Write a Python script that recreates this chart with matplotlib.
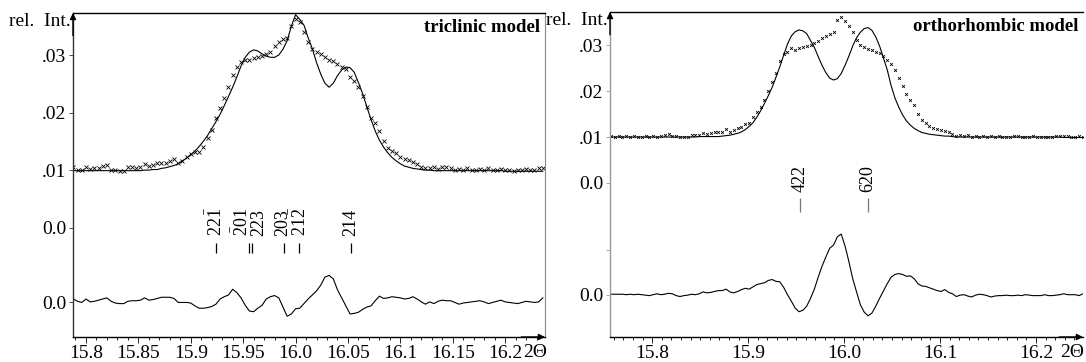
import numpy as np
import matplotlib
matplotlib.use("Agg")
import matplotlib.pyplot as plt

plt.rcParams['font.family'] = ['Liberation Serif', 'DejaVu Serif']
plt.rcParams['mathtext.fontset'] = 'custom'
plt.rcParams['mathtext.rm'] = 'Liberation Serif'
plt.rcParams['mathtext.it'] = 'Liberation Serif'

# ---- triclinic model (left) ----
tri_start, tri_step = 15.788, 0.004
tri_obs = [0.0105, 0.0101, 0.0100, 0.0105, 0.0102, 0.0103, 0.0103, 0.0107, 0.0108, 0.0101,
           0.0100, 0.0099, 0.0098, 0.0105, 0.0105, 0.0103, 0.0106, 0.0110, 0.0107, 0.0108,
           0.0112, 0.0113, 0.0113, 0.0115, 0.0119, 0.0113, 0.0116, 0.0123, 0.0128, 0.0131,
           0.0131, 0.0140, 0.0156, 0.0170, 0.0190, 0.0208, 0.0225, 0.0245, 0.0266, 0.0280,
           0.0288, 0.0292, 0.0291, 0.0294, 0.0297, 0.0299, 0.0302, 0.0306, 0.0315, 0.0323,
           0.0328, 0.0330, 0.0350, 0.0362, 0.0357, 0.0340, 0.0322, 0.0310, 0.0306, 0.0301,
           0.0297, 0.0292, 0.0289, 0.0284, 0.0280, 0.0275, 0.0262, 0.0255, 0.0245, 0.0228,
           0.0210, 0.0190, 0.0182, 0.0168, 0.0150, 0.0139, 0.0133, 0.0129, 0.0123, 0.0120,
           0.0118, 0.0114, 0.0111, 0.0106, 0.0103, 0.0104, 0.0105, 0.0102, 0.0105, 0.0105,
           0.0103, 0.0101, 0.0102, 0.0101, 0.0103, 0.0101, 0.0100, 0.0102, 0.0101, 0.0104,
           0.0101, 0.0101, 0.0102, 0.0100, 0.0101, 0.0099, 0.0101, 0.0101, 0.0102, 0.0101,
           0.0100, 0.0104, 0.0103]
tri_calc = [0.0099, 0.0099, 0.0099, 0.0099, 0.0099, 0.0099, 0.0099, 0.0099, 0.0099, 0.0099,
            0.0099, 0.0099, 0.0099, 0.0099, 0.0099, 0.0099, 0.0099, 0.0100, 0.0100, 0.0101,
            0.0101, 0.0103, 0.0104, 0.0106, 0.0108, 0.0111, 0.0116, 0.0121, 0.0127, 0.0133,
            0.0141, 0.0150, 0.0160, 0.0172, 0.0184, 0.0197, 0.0212, 0.0228, 0.0244, 0.0262,
            0.0281, 0.0296, 0.0305, 0.0309, 0.0307, 0.0302, 0.0298, 0.0296, 0.0296, 0.0300,
            0.0310, 0.0325, 0.0350, 0.0370, 0.0362, 0.0352, 0.0330, 0.0311, 0.0287, 0.0267,
            0.0251, 0.0244, 0.0251, 0.0264, 0.0274, 0.0279, 0.0278, 0.0270, 0.0252, 0.0233,
            0.0210, 0.0188, 0.0168, 0.0152, 0.0140, 0.0130, 0.0122, 0.0116, 0.0111, 0.0107,
            0.0105, 0.0103, 0.0102, 0.0101, 0.0100, 0.0100, 0.0099, 0.0099, 0.0099, 0.0099,
            0.0099, 0.0099, 0.0099, 0.0099, 0.0099, 0.0099, 0.0099, 0.0099, 0.0099, 0.0099,
            0.0099, 0.0099, 0.0099, 0.0098, 0.0098, 0.0098, 0.0098, 0.0098, 0.0098, 0.0098,
            0.0098, 0.0098, 0.0098]
tri_diff = [0.0006, 0.0002, 0.0000, 0.0006, 0.0001, 0.0002, 0.0004, 0.0006, 0.0008, 0.0002,
            -0.0001, -0.0002, -0.0002, 0.0002, 0.0003, 0.0003, 0.0004, 0.0008, 0.0004, 0.0005,
            0.0007, 0.0009, 0.0009, 0.0009, 0.0007, 0.0000, 0.0000, 0.0000, -0.0001, -0.0006,
            -0.0010, -0.0010, -0.0009, -0.0007, -0.0003, 0.0006, 0.0010, 0.0013, 0.0023, 0.0017,
            0.0008, -0.0005, -0.0015, -0.0016, -0.0010, -0.0005, 0.0006, 0.0010, 0.0012, 0.0008,
            -0.0008, -0.0024, -0.0020, -0.0011, -0.0010, -0.0002, 0.0006, 0.0013, 0.0020, 0.0030,
            0.0044, 0.0047, 0.0041, 0.0022, 0.0008, -0.0006, -0.0020, -0.0019, -0.0017, -0.0012,
            -0.0008, -0.0006, 0.0003, 0.0011, 0.0007, 0.0008, 0.0010, 0.0009, 0.0008, 0.0006,
            0.0007, 0.0010, 0.0006, 0.0001, -0.0003, 0.0001, -0.0002, 0.0002, 0.0004, 0.0003,
            0.0003, 0.0000, -0.0003, -0.0001, 0.0000, 0.0001, 0.0002, 0.0003, 0.0001, -0.0002,
            0.0000, 0.0002, 0.0004, 0.0001, 0.0000, -0.0001, -0.0002, 0.0000, 0.0002, 0.0001,
            0.0000, 0.0001, 0.0008]
tri_refl_pos = [15.924, 15.956, 15.958, 15.989, 16.003, 16.053]
tri_refl_lab = [r'$\mathrm{22\bar{1}}$', r'$\mathrm{\bar{2}01}$', '223', '203',
                r'$\mathrm{21\bar{2}}$', '214']
tri_refl_txt = [15.924, 15.949, 15.965, 15.988, 16.004, 16.053]
tri_xticks = [15.8, 15.85, 15.9, 15.95, 16.0, 16.05, 16.1, 16.15, 16.2]
tri_xlabels = ['15.8', '15.85', '15.9', '15.95', '16.0', '16.05', '16.1', '16.15', '16.2']

# ---- orthorhombic model (right) ----
ort_start, ort_step = 15.757, 0.004
ort_obs = [0.0103, 0.0101, 0.0102, 0.0101, 0.0102, 0.0101, 0.0103, 0.0100, 0.0101, 0.0102,
           0.0101, 0.0103, 0.0101, 0.0102, 0.0104, 0.0106, 0.0102, 0.0103, 0.0099, 0.0099,
           0.0100, 0.0104, 0.0104, 0.0105, 0.0109, 0.0106, 0.0108, 0.0110, 0.0112, 0.0111,
           0.0117, 0.0112, 0.0115, 0.0119, 0.0122, 0.0128, 0.0131, 0.0143, 0.0155, 0.0166,
           0.0180, 0.0200, 0.0220, 0.0240, 0.0266, 0.0280, 0.0286, 0.0293, 0.0289, 0.0293,
           0.0296, 0.0298, 0.0301, 0.0305, 0.0309, 0.0315, 0.0320, 0.0324, 0.0329, 0.0355,
           0.0361, 0.0352, 0.0342, 0.0328, 0.0312, 0.0300, 0.0295, 0.0292, 0.0289, 0.0286,
           0.0283, 0.0276, 0.0267, 0.0259, 0.0246, 0.0228, 0.0210, 0.0193, 0.0180, 0.0170,
           0.0151, 0.0137, 0.0130, 0.0124, 0.0120, 0.0117, 0.0115, 0.0114, 0.0110, 0.0106,
           0.0103, 0.0105, 0.0102, 0.0104, 0.0101, 0.0102, 0.0100, 0.0102, 0.0101, 0.0103,
           0.0101, 0.0102, 0.0101, 0.0101, 0.0100, 0.0102, 0.0103, 0.0101, 0.0100, 0.0101,
           0.0102, 0.0100, 0.0101, 0.0101, 0.0100, 0.0101, 0.0103, 0.0103, 0.0103, 0.0102,
           0.0100, 0.0101, 0.0102, 0.0101]
ort_calc = [0.0100, 0.0100, 0.0100, 0.0100, 0.0100, 0.0100, 0.0100, 0.0100, 0.0100, 0.0100,
            0.0100, 0.0100, 0.0100, 0.0100, 0.0100, 0.0100, 0.0100, 0.0100, 0.0100, 0.0100,
            0.0100, 0.0100, 0.0100, 0.0101, 0.0101, 0.0101, 0.0101, 0.0101, 0.0101, 0.0102,
            0.0103, 0.0104, 0.0106, 0.0108, 0.0111, 0.0116, 0.0123, 0.0131, 0.0143, 0.0157,
            0.0173, 0.0190, 0.0208, 0.0230, 0.0253, 0.0278, 0.0302, 0.0320, 0.0329, 0.0333,
            0.0331, 0.0325, 0.0310, 0.0295, 0.0275, 0.0256, 0.0240, 0.0228, 0.0224, 0.0227,
            0.0238, 0.0256, 0.0276, 0.0298, 0.0316, 0.0328, 0.0336, 0.0338, 0.0332, 0.0318,
            0.0298, 0.0272, 0.0246, 0.0212, 0.0185, 0.0165, 0.0148, 0.0135, 0.0126, 0.0119,
            0.0114, 0.0110, 0.0108, 0.0106, 0.0105, 0.0104, 0.0103, 0.0102, 0.0102, 0.0101,
            0.0100, 0.0100, 0.0100, 0.0100, 0.0100, 0.0100, 0.0100, 0.0100, 0.0100, 0.0100,
            0.0100, 0.0100, 0.0100, 0.0100, 0.0100, 0.0100, 0.0100, 0.0100, 0.0100, 0.0100,
            0.0100, 0.0100, 0.0100, 0.0100, 0.0100, 0.0100, 0.0100, 0.0100, 0.0099, 0.0099,
            0.0099, 0.0099, 0.0099, 0.0099]
ort_diff = [0.0001, 0.0001, 0.0001, 0.0001, 0.0000, 0.0001, 0.0000, 0.0001, 0.0000, -0.0001,
            -0.0002, 0.0000, 0.0002, 0.0000, 0.0001, 0.0003, 0.0002, -0.0002, -0.0004, -0.0002,
            -0.0001, 0.0001, 0.0000, 0.0002, 0.0006, 0.0004, 0.0005, 0.0007, 0.0009, 0.0009,
            0.0012, 0.0006, 0.0004, 0.0007, 0.0011, 0.0014, 0.0012, 0.0017, 0.0022, 0.0024,
            0.0026, 0.0031, 0.0033, 0.0029, 0.0028, 0.0016, 0.0000, -0.0014, -0.0029, -0.0037,
            -0.0034, -0.0025, -0.0008, 0.0012, 0.0038, 0.0062, 0.0082, 0.0101, 0.0108, 0.0126,
            0.0132, 0.0106, 0.0072, 0.0035, 0.0006, -0.0022, -0.0038, -0.0046, -0.0040, -0.0025,
            -0.0008, 0.0008, 0.0024, 0.0038, 0.0044, 0.0046, 0.0044, 0.0040, 0.0041, 0.0035,
            0.0024, 0.0019, 0.0018, 0.0015, 0.0012, 0.0009, 0.0007, 0.0011, 0.0005, 0.0002,
            -0.0004, -0.0001, 0.0000, -0.0003, -0.0005, -0.0001, 0.0001, 0.0000, -0.0002, -0.0005,
            -0.0003, -0.0002, -0.0002, -0.0001, -0.0002, -0.0002, -0.0001, -0.0002, 0.0000, -0.0001,
            -0.0002, -0.0002, -0.0002, 0.0000, -0.0002, -0.0002, -0.0001, 0.0000, 0.0002, 0.0000,
            0.0000, 0.0000, -0.0002, 0.0002]
ort_refl_pos = [15.954, 16.025]
ort_refl_lab = ['422', '620']
ort_xticks = [15.8, 15.9, 16.0, 16.1, 16.2]
ort_xlabels = ['15.8', '15.9', '16.0', '16.1', '16.2']


def draw_panel(ax, x, obs, calc, diff, offset, refl_pos, refl_txt, refl_lab,
               tick_y, lab_y, tick_col, xlim, ylim, xticks, xlabels,
               ytick_pos, title, left_col, right_spine, ms):
    ax.plot(x, calc, color='black', lw=0.8)
    ax.plot(x, obs, ls='none', marker='x', ms=ms, mew=0.6, color='black')
    ax.plot(x, np.array(diff) + offset, color='black', lw=0.8)
    ax.vlines(refl_pos, tick_y[0], tick_y[1], color=tick_col, lw=0.9)
    for p, t in zip(refl_txt, refl_lab):
        ax.text(p, lab_y, t, rotation=90, ha='center', va='bottom', fontsize=13)

    ax.set_xticks(xticks)
    ax.set_xticklabels(xlabels, fontsize=14)
    minor = np.round(np.arange(15.75, 16.26, 0.01), 3)
    minor = minor[(minor > xlim[0]) & (minor < xlim[1])]
    ax.set_xticks(minor, minor=True)
    ax.set_yticks(ytick_pos)
    ax.set_yticklabels(['.01', '.02', '.03', '0.0', '0.0'], fontsize=14)
    ax.set_xlim(xlim)
    ax.set_ylim(ylim)
    ax.tick_params(axis='x', which='major', length=4, width=0.6, pad=2)
    ax.tick_params(axis='x', which='minor', length=2.5, width=0.6)
    ax.tick_params(axis='y', length=3, width=0.6, pad=2)

    ax.spines['top'].set_linewidth(1.0)
    ax.spines['bottom'].set_linewidth(1.0)
    ax.spines['left'].set_color(left_col)
    ax.spines['left'].set_linewidth(1.0)
    ax.tick_params(axis='y', colors=left_col, labelcolor='black')
    if right_spine:
        ax.spines['right'].set_color('#888888')
        ax.spines['right'].set_linewidth(0.8)
    else:
        ax.spines['right'].set_visible(False)

    # axis arrows
    ax.annotate('', xy=(0, 1.0), xytext=(0, 0.93), xycoords='axes fraction',
                arrowprops=dict(arrowstyle='-|>', color='black', lw=1.0,
                                mutation_scale=9, shrinkA=0, shrinkB=0))
    ax.annotate('', xy=(1.0, 0), xytext=(0.95, 0), xycoords='axes fraction',
                arrowprops=dict(arrowstyle='-|>', color='black', lw=1.0,
                                mutation_scale=9, shrinkA=0, shrinkB=0))
    ax.text(-0.005, 0.975, 'rel.  Int.', transform=ax.transAxes, ha='right',
            va='center', fontsize=14)
    ax.text(0.978, -0.022, '2Θ', transform=ax.transAxes, ha='center', va='top',
            fontsize=14)
    ax.text(0.99, 0.955, title, transform=ax.transAxes, ha='right', va='center',
            fontsize=13.5, fontweight='bold')


fig = plt.figure(figsize=(10.86, 3.62), dpi=100)

ax1 = fig.add_axes([0.0672, 0.0691, 0.4346, 0.8950])
x1 = tri_start + tri_step * np.arange(len(tri_obs))
draw_panel(ax1, x1, tri_obs, tri_calc, tri_diff, -0.013,
           tri_refl_pos, tri_refl_txt, tri_refl_lab, (-0.0044, -0.0027), -0.0015, 'black',
           (15.7876, 16.238), (-0.0190, 0.0373), tri_xticks, tri_xlabels,
           [0.01, 0.02, 0.03, 0.0, -0.013], 'triclinic model', '#333333', True, 2.6)

ax2 = fig.add_axes([0.5617, 0.0691, 0.4355, 0.8978])
x2 = ort_start + ort_step * np.arange(len(ort_obs))
draw_panel(ax2, x2, ort_obs, ort_calc, ort_diff, -0.0243,
           ort_refl_pos, ort_refl_pos, ort_refl_lab, (-0.0063, -0.0033), -0.0020, '#777777',
           (15.756, 16.249), (-0.0335, 0.0372), ort_xticks, ort_xlabels,
           [0.01, 0.02, 0.03, 0.0, -0.0243], 'orthorhombic model', '#999999', False, 2.0)
ax2.set_yticks([-0.0146], minor=True)
ax2.tick_params(axis='y', which='minor', length=3, width=0.6, colors='#999999')

fig.savefig('out.png', dpi=100)
